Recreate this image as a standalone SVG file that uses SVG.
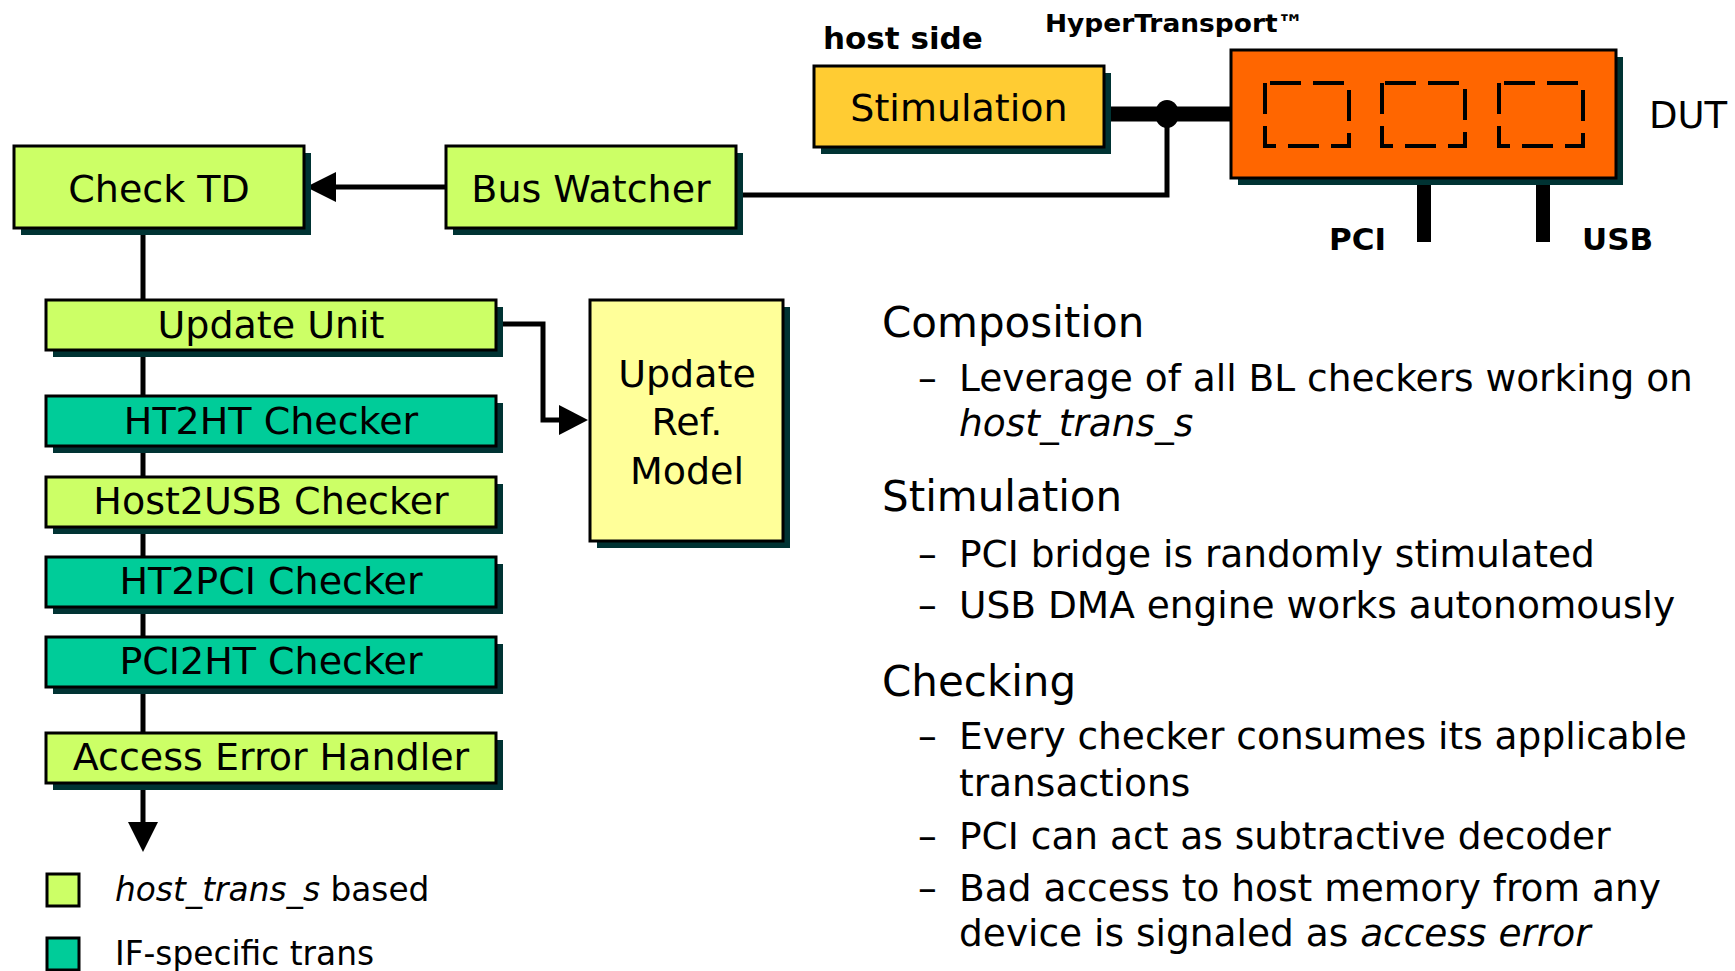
<svg xmlns="http://www.w3.org/2000/svg" width="1735" height="971" viewBox="0 0 1735 971">
  <defs>
    <style>
      text { font-family: "DejaVu Sans", Verdana, sans-serif; fill: #000; }
      .box { stroke: #000; stroke-width: 3; }
      .shadow { fill: #003333; }
      .lime { fill: #CCFF66; }
      .teal { fill: #00CC99; }
      .pale { fill: #FFFF99; }
      .gold { fill: #FFCC33; }
      .orange { fill: #FF6600; }
      .lbl { font-size: 38px; text-anchor: middle; }
      .head { font-size: 42px; }
      .item { font-size: 37.5px; }
      .legend { font-size: 32.8px; }
      .bold { font-weight: bold; }
      .wire { fill: none; stroke: #000; stroke-width: 5; }
      .slot { fill: none; stroke: #000; stroke-width: 4; stroke-dasharray: 31 12; }
    </style>
  </defs>

  <rect width="1735" height="971" fill="#fff"/>

  <!-- connectors -->
  <g id="connectors">
    <!-- HyperTransport bus between stimulation and DUT -->
    <line x1="1104" y1="114" x2="1232" y2="114" stroke="#000" stroke-width="15"/>
    <ellipse cx="1167" cy="114" rx="12" ry="14" fill="#000"/>
    <!-- tap from bus to bus watcher -->
    <polyline class="wire" points="1167,114 1167,195 738,195"/>
    <!-- bus watcher to check TD -->
    <line class="wire" x1="446" y1="187" x2="334" y2="187"/>
    <polygon points="306,187 336,172 336,202" fill="#000"/>
    <!-- checker chain spine -->
    <line class="wire" x1="143" y1="228" x2="143" y2="824"/>
    <polygon points="143,852 128,822 158,822" fill="#000"/>
    <!-- update unit to reference model -->
    <polyline class="wire" points="497,324 543,324 543,420 561,420"/>
    <polygon points="588,420 559,405 559,435" fill="#000"/>
    <!-- DUT interface pins -->
    <line x1="1424" y1="180" x2="1424" y2="242" stroke="#000" stroke-width="14"/>
    <line x1="1543" y1="180" x2="1543" y2="242" stroke="#000" stroke-width="14"/>
  </g>

  <!-- host side stimulation -->
  <g id="stimulation">
    <text class="bold" x="823" y="49" font-size="31">host side</text>
    <rect class="shadow" x="821" y="73" width="290" height="81"/>
    <rect class="box gold" x="814" y="66" width="290" height="81"/>
    <text class="lbl" x="959" y="121">Stimulation</text>
  </g>

  <!-- device under test -->
  <g id="dut">
    <text class="bold" x="1045" y="32" font-size="24" textLength="259" lengthAdjust="spacingAndGlyphs">HyperTransport™</text>
    <rect class="shadow" x="1238" y="57" width="385" height="128"/>
    <rect class="box orange" x="1231" y="50" width="385" height="128"/>
    <!-- internal blocks, traced counter-clockwise from the top-left corner -->
    <path class="slot" d="M1265,83 V146 H1349 V83 Z"/>
    <path class="slot" d="M1382,83 V146 H1465 V83 Z"/>
    <path class="slot" d="M1499,83 V146 H1583 V83 Z"/>
    <text x="1649" y="128" font-size="37">DUT</text>
    <text class="bold" x="1329" y="250" font-size="31">PCI</text>
    <text class="bold" x="1582" y="250" font-size="31">USB</text>
  </g>

  <g id="check-td">
    <rect class="shadow" x="21" y="153" width="290" height="82"/>
    <rect class="box lime" x="14" y="146" width="290" height="82"/>
    <text class="lbl" x="159" y="202">Check TD</text>
  </g>

  <g id="bus-watcher">
    <rect class="shadow" x="453" y="153" width="290" height="82"/>
    <rect class="box lime" x="446" y="146" width="290" height="82"/>
    <text class="lbl" x="591" y="202">Bus Watcher</text>
  </g>

  <g id="update-unit">
    <rect class="shadow" x="53" y="307" width="450" height="50"/>
    <rect class="box lime" x="46" y="300" width="450" height="50"/>
    <text class="lbl" x="271" y="338">Update Unit</text>
  </g>

  <g id="ht2ht-checker">
    <rect class="shadow" x="53" y="403" width="450" height="50"/>
    <rect class="box teal" x="46" y="396" width="450" height="50"/>
    <text class="lbl" x="271" y="434">HT2HT Checker</text>
  </g>

  <g id="host2usb-checker">
    <rect class="shadow" x="53" y="484" width="450" height="50"/>
    <rect class="box lime" x="46" y="477" width="450" height="50"/>
    <text class="lbl" x="271" y="514">Host2USB Checker</text>
  </g>

  <g id="ht2pci-checker">
    <rect class="shadow" x="53" y="564" width="450" height="50"/>
    <rect class="box teal" x="46" y="557" width="450" height="50"/>
    <text class="lbl" x="271" y="594">HT2PCI Checker</text>
  </g>

  <g id="pci2ht-checker">
    <rect class="shadow" x="53" y="644" width="450" height="50"/>
    <rect class="box teal" x="46" y="637" width="450" height="50"/>
    <text class="lbl" x="271" y="674">PCI2HT Checker</text>
  </g>

  <g id="access-error-handler">
    <rect class="shadow" x="53" y="740" width="450" height="50"/>
    <rect class="box lime" x="46" y="733" width="450" height="50"/>
    <text class="lbl" x="271" y="770">Access Error Handler</text>
  </g>

  <g id="update-ref-model">
    <rect class="shadow" x="597" y="307" width="193" height="241"/>
    <rect class="box pale" x="590" y="300" width="193" height="241"/>
    <text class="lbl" x="687" y="387">Update</text>
    <text class="lbl" x="687" y="435">Ref.</text>
    <text class="lbl" x="687" y="484">Model</text>
  </g>

  <!-- colour key -->
  <g id="legend">
    <rect class="box lime" x="47" y="874" width="32" height="32"/>
    <text class="legend" x="115" y="901"><tspan font-style="italic">host_trans_s</tspan> based</text>
    <rect class="box teal" x="47" y="938" width="32" height="32"/>
    <text class="legend" x="115" y="965">IF-specific trans</text>
  </g>

  <!-- notes -->
  <g id="notes">
    <text class="head" x="882" y="337">Composition</text>
    <text class="item" x="918" y="391">–</text>
    <text class="item" x="959" y="391">Leverage of all BL checkers working on</text>
    <text class="item" x="959" y="436" font-style="italic">host_trans_s</text>

    <text class="head" x="882" y="511">Stimulation</text>
    <text class="item" x="918" y="567">–</text>
    <text class="item" x="959" y="567">PCI bridge is randomly stimulated</text>
    <text class="item" x="918" y="618">–</text>
    <text class="item" x="959" y="618">USB DMA engine works autonomously</text>

    <text class="head" x="882" y="696">Checking</text>
    <text class="item" x="918" y="749">–</text>
    <text class="item" x="959" y="749">Every checker consumes its applicable</text>
    <text class="item" x="959" y="796">transactions</text>
    <text class="item" x="918" y="849">–</text>
    <text class="item" x="959" y="849">PCI can act as subtractive decoder</text>
    <text class="item" x="918" y="901">–</text>
    <text class="item" x="959" y="901">Bad access to host memory from any</text>
    <text class="item" x="959" y="946">device is signaled as <tspan font-style="italic">access error</tspan></text>
  </g>
</svg>
